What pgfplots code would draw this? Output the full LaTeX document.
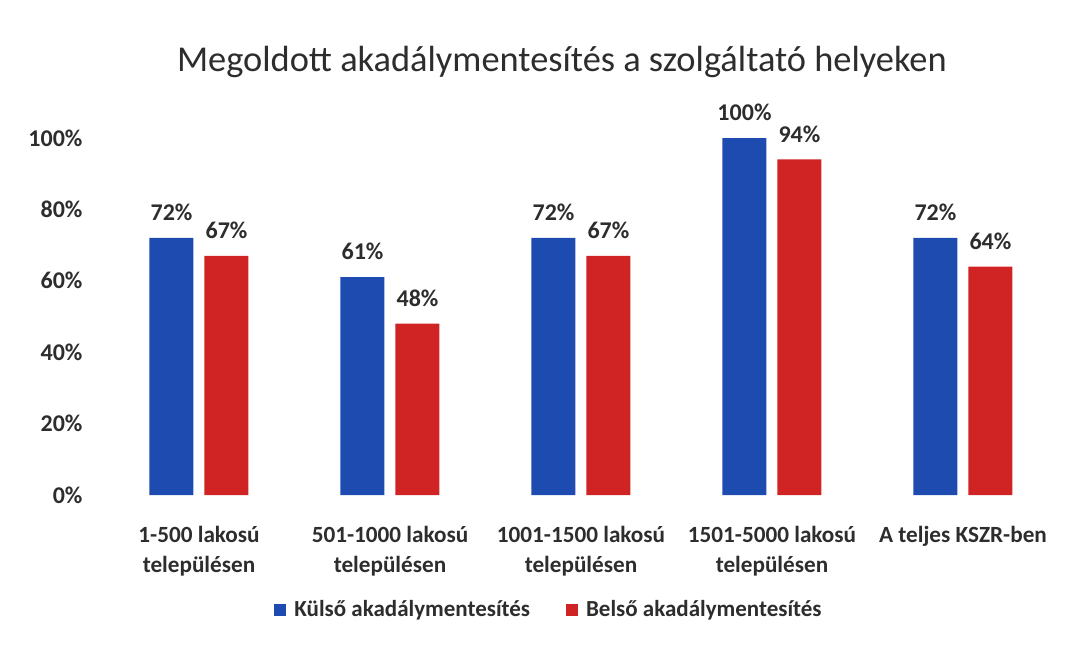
\documentclass[border=0pt]{standalone}
\usepackage{pgfplots}
\pgfplotsset{compat=1.18}
\usepackage{fontspec}
\setmainfont{Carlito}
\definecolor{kulso}{RGB}{30,75,176}
\definecolor{belso}{RGB}{208,36,36}
\definecolor{txt}{RGB}{45,45,45}
\begin{document}
\begin{tikzpicture}
\path[use as bounding box] (0,0) rectangle (539pt,322.5pt);
\begin{axis}[
  at={(51.75pt,75pt)}, anchor=south west,
  scale only axis, width=477.5pt, height=178.5pt,
  ybar=5.5pt, bar width=22pt,
  xmin=-0.5, xmax=4.5, ymin=0, ymax=100,
  axis line style={draw=none},
  tick style={draw=none},
  xtick=data,
  xticklabels={{1-500 lakosú\\településen},{501-1000 lakosú\\településen},{1001-1500 lakosú\\településen},{1501-5000 lakosú\\településen},{A teljes KSZR-ben}},
  xticklabel style={align=center, font=\bfseries\fontsize{11.6}{15}\selectfont, text=txt, anchor=north, yshift=-8pt},
  ytick={0,20,40,60,80,100},
  yticklabel={\pgfmathprintnumber{\tick}\%},
  yticklabel style={font=\bfseries\fontsize{12}{14}\selectfont, text=txt, xshift=-7pt},
  /pgf/number format/assume math mode=true,
  nodes near coords={\pgfmathprintnumber{\pgfplotspointmeta}\%},
  nodes near coords style={font=\bfseries\fontsize{12}{14}\selectfont, text=txt, yshift=5pt},
  legend style={at={(0.4675,-0.322)}, anchor=center, draw=none, legend columns=2,
    font=\bfseries\fontsize{11.5}{13}\selectfont, text=txt,
    /tikz/every even column/.append style={column sep=16pt}},
  legend image code/.code={\fill[#1] (0pt,-3pt) rectangle (6pt,3pt);},
  legend cell align=left,
  clip=false,
]
\addplot[fill=kulso, draw=none] coordinates {(0,72) (1,61) (2,72) (3,100) (4,72)};
\addplot[fill=belso, draw=none] coordinates {(0,67) (1,48) (2,67) (3,94) (4,64)};
\legend{\hspace{2pt}Külső akadálymentesítés, \hspace{2pt}Belső akadálymentesítés}
\node[font=\fontsize{18.2}{21}\selectfont, text=txt] at (rel axis cs:0.48,1.212) {Megoldott akadálymentesítés a szolgáltató helyeken};
\end{axis}
\end{tikzpicture}
\end{document}
